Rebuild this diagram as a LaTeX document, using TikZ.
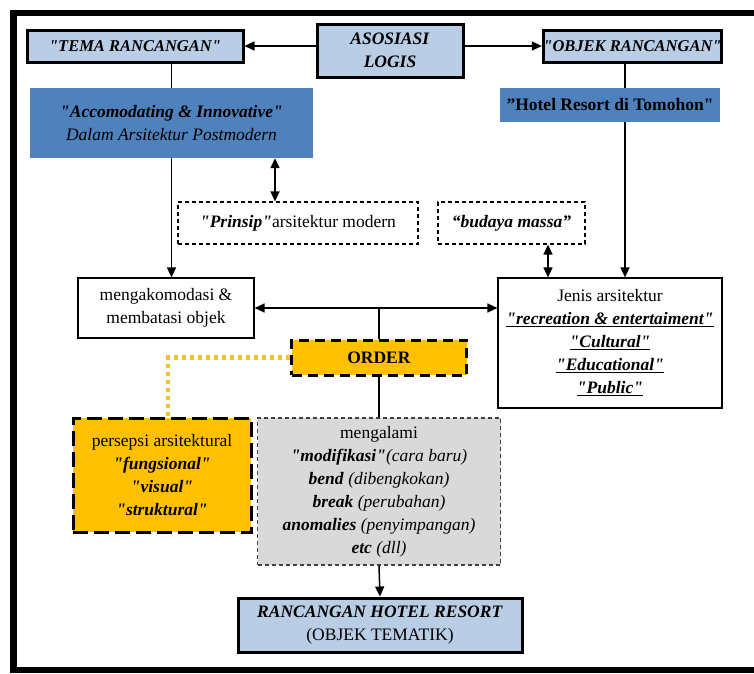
\documentclass[tikz,border=0pt]{standalone}
\usepackage{fontspec}
\setmainfont{Liberation Serif}[Ligatures=TeXOff]
\usetikzlibrary{arrows.meta}

\definecolor{paleblue}{HTML}{B9CDE5}
\definecolor{steelblue}{HTML}{4F81BD}
\definecolor{amber}{HTML}{FFC000}
\definecolor{softgray}{HTML}{D9D9D9}
\definecolor{dotyellow}{HTML}{F2C232}

\begin{document}
\begin{tikzpicture}[x=1pt,y=-1pt,
        every node/.style={align=center,inner sep=0pt,font=\fontsize{17.5}{23}\selectfont},
        headbox/.style={draw,line width=3pt,fill=paleblue},
        bluebox/.style={fill=steelblue},
        plainbox/.style={draw,line width=1.2pt},
        dashbox/.style={draw,line width=1.2pt,dash pattern=on 4pt off 3pt},
        orderbox/.style={draw,fill=amber,line width=3pt,dash pattern=on #1 off 6pt},
        plainline/.style={line width=1.5pt},
        arrowline/.style={line width=1.5pt,-{Triangle[length=10pt,width=9pt]}},
        twoway/.style={line width=1.5pt,{Triangle[length=10pt,width=9pt]}-{Triangle[length=10pt,width=9pt]}},
        yellowdots/.style={dotyellow,line width=4.5pt,dash pattern=on 4pt off 4pt}]
        \useasboundingbox (0,0) rectangle (754,673);

        % outer frame, right side runs off the page
        \draw[line width=6.5pt] (770,13) -- (13.5,13) -- (13.5,670) -- (770,670);

        % top row
        \node[headbox,font=\fontsize{16.5}{20}\selectfont,minimum width=216pt,minimum height=32pt] (tema) at (135,46) {\textbf{\textit{"TEMA RANCANGAN"}}};
        \node[headbox,minimum width=146pt,minimum height=53pt] (asosiasi) at (390,50.5) {\textbf{\textit{ASOSIASI}}\\\textbf{\textit{LOGIS}}};
        \node[headbox,font=\fontsize{16.5}{20}\selectfont,minimum width=175pt,minimum height=32pt] (objek) at (632.5,46) {\textbf{\textit{"OBJEK RANCANGAN"}}};

        \node[bluebox,minimum width=283pt,minimum height=70pt] (accom) at (171.5,123) {\textbf{\textit{"Accomodating \& Innovative"}}\\\textit{Dalam Arsitektur Postmodern}};
        \node[bluebox,minimum width=220pt,minimum height=34pt] (hotel) at (610,105) {\textbf{”Hotel Resort di Tomohon"}};

        \node[dashbox,minimum width=240pt,minimum height=42pt] (prinsip) at (298,223) {\textbf{\textit{"Prinsip"}}arsitektur modern};
        \node[dashbox,minimum width=147pt,minimum height=42pt] (budaya) at (511.5,223) {\textbf{\textit{“budaya massa”}}};

        \node[plainbox,minimum width=176pt,minimum height=60pt] (meng) at (166,308) {mengakomodasi \&\\membatasi objek};
        \node[plainbox,minimum width=224pt,minimum height=130pt] (jenis) at (610,343) {Jenis arsitektur\\
            \underline{\textbf{\textit{"recreation \& entertaiment"}}}\\
            \underline{\textbf{\textit{"Cultural"}}}\\
            \underline{\textbf{\textit{"Educational"}}}\\
            \underline{\textbf{\textit{"Public"}}}};

        \node[orderbox=10pt,minimum width=175pt,minimum height=35pt] (order) at (379,357.5) {\textbf{ORDER}};
        \node[orderbox=15pt,minimum width=178pt,minimum height=114pt] (persepsi) at (162,475) {persepsi arsitektural\\
            \textbf{\textit{"fungsional"}}\\
            \textbf{\textit{"visual"}}\\
            \textbf{\textit{"struktural"}}};
        \node[dashbox,draw=black!75,fill=softgray,minimum width=243pt,minimum height=147pt] (ubah) at (379,491.5) {mengalami\\
            \textbf{\textit{"modifikasi"}}\textit{(cara baru)}\\
            \textbf{\textit{bend}} \textit{(dibengkokan)}\\
            \textbf{\textit{break}} \textit{(perubahan)}\\
            \textbf{\textit{anomalies}} \textit{(penyimpangan)}\\
            \textbf{\textit{etc}} \textit{(dll)}};

        \node[headbox,minimum width=284pt,minimum height=54pt] (hasil) at (380,625) {\textbf{\textit{RANCANGAN HOTEL RESORT}}\\(OBJEK TEMATIK)};

        % connectors
        \draw[arrowline] (asosiasi.west |- tema.east) -- (tema.east);
        \draw[arrowline] (asosiasi.east |- objek.west) -- (objek.west);
        \draw[plainline] (tema.south -| accom.north) -- (accom.north);
        \draw[plainline] ([xshift=-7.5pt]objek.south) -- ([xshift=15pt]hotel.north);
        \draw[arrowline] (accom.south) -- (accom.south |- meng.north);
        \draw[twoway] ([xshift=-23pt]prinsip.north |- accom.south) -- ([xshift=-23pt]prinsip.north);
        \draw[arrowline] ([xshift=15pt]hotel.south) -- ([xshift=15pt]hotel.south |- jenis.north);
        \draw[twoway] ([xshift=36.5pt]budaya.south) -- ([xshift=36.5pt]budaya.south |- jenis.north);
        \draw[twoway] (meng.east) -- (meng.east -| jenis.west);
        \draw[plainline] (order.north) -- (order.north |- meng.east);
        \draw[plainline] (order.south) -- (ubah.north);
        \draw[arrowline] (ubah.south) -- (hasil.north);
        \draw[yellowdots] (order.west) -| ([xshift=6pt]persepsi.north);
    \end{tikzpicture}
\end{document}
